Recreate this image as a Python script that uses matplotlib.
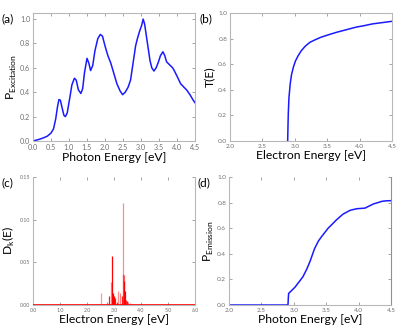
import matplotlib
matplotlib.use("Agg")
import matplotlib.pyplot as plt

plt.rcParams['font.family'] = ['Lato', 'DejaVu Sans']

# (a) excitation probability
exc_e = [0.0, 0.1, 0.2, 0.3, 0.4, 0.5, 0.57, 0.63, 0.68, 0.72, 0.76, 0.81, 0.86, 0.9, 0.95,
         1.02, 1.08, 1.15, 1.2, 1.26, 1.33, 1.38, 1.43, 1.5, 1.55, 1.6, 1.66, 1.72, 1.8, 1.87,
         1.93, 2.0, 2.08, 2.16, 2.25, 2.33, 2.42, 2.49, 2.56, 2.64, 2.71, 2.78, 2.85, 2.9, 2.96,
         3.02, 3.06, 3.1, 3.15, 3.2, 3.25, 3.3, 3.36, 3.42, 3.48, 3.54, 3.61, 3.66, 3.71, 3.8,
         3.88, 3.94, 4.02, 4.1, 4.18, 4.27, 4.36, 4.45, 4.5]
exc_p = [0.0, 0.008, 0.016, 0.027, 0.04, 0.065, 0.1, 0.18, 0.28, 0.34, 0.335, 0.27, 0.21, 0.2, 0.23,
         0.35, 0.46, 0.515, 0.5, 0.42, 0.39, 0.43, 0.56, 0.678, 0.64, 0.578, 0.62, 0.74, 0.84, 0.874,
         0.86, 0.78, 0.7, 0.64, 0.55, 0.47, 0.41, 0.38, 0.4, 0.44, 0.5, 0.64, 0.78, 0.84, 0.9,
         0.95, 1.0, 0.96, 0.86, 0.76, 0.66, 0.6, 0.574, 0.6, 0.645, 0.7, 0.732, 0.7, 0.65, 0.623,
         0.6, 0.568, 0.52, 0.47, 0.445, 0.418, 0.38, 0.335, 0.314]

# (b) transmission
tr_e = [2.89, 2.895, 2.90, 2.91, 2.93, 2.95, 2.98, 3.01, 3.05, 3.1, 3.16, 3.23, 3.31, 3.4, 3.52,
        3.65, 3.8, 3.95, 4.06, 4.2, 4.35, 4.5]
tr_t = [0.0, 0.12, 0.22, 0.34, 0.45, 0.52, 0.58, 0.625, 0.665, 0.705, 0.74, 0.77, 0.79, 0.81, 0.83,
        0.85, 0.87, 0.89, 0.90, 0.915, 0.925, 0.935]

# (c) electron energy distribution (spikes)
dk_e = [2.51, 2.75, 2.82, 2.88, 2.93, 2.97, 3.0, 3.04, 3.1, 3.16, 3.22, 3.28, 3.32, 3.34, 3.36,
        3.38, 3.4, 3.44, 3.47, 3.53, 3.59, 3.69]
dk_v = [0.0145, 0.003, 0.0106, 0.027, 0.057, 0.014, 0.01, 0.008, 0.004, 0.016, 0.014, 0.011, 0.036,
        0.119, 0.028, 0.035, 0.016, 0.006, 0.005, 0.003, 0.002, 0.001]
dk_alpha = [0.4, 0.6, 0.9, 0.5, 1.0, 1.0, 1.0, 0.9, 0.8, 0.45, 0.5, 0.9, 0.5, 0.45, 1.0,
            0.6, 1.0, 0.8, 0.9, 0.5, 0.4, 0.4]

# (d) emission probability
em_e = [2.0, 2.5, 2.91, 2.915, 2.92, 2.96, 3.02, 3.08, 3.14, 3.2, 3.25, 3.32, 3.38, 3.43, 3.53,
        3.6, 3.66, 3.76, 3.87, 3.97, 4.1, 4.17, 4.23, 4.3, 4.36, 4.43, 4.5]
em_p = [0.0, 0.0, 0.0, 0.05, 0.09, 0.11, 0.14, 0.18, 0.22, 0.28, 0.34, 0.44, 0.5, 0.535, 0.6,
        0.635, 0.666, 0.71, 0.74, 0.752, 0.757, 0.775, 0.79, 0.8, 0.81, 0.814, 0.815]

W, H = 397, 330
fig = plt.figure(figsize=(W / 100, H / 100), dpi=100)

def rect(l, r, t, b):
    return [l / W, 1 - b / H, (r - l) / W, (b - t) / H]

spine_c = '#b8b8b8'
tick_c = '#707070'
lab_fs = 8.7

def style(ax, tfs, hide_top=False):
    for s in ax.spines.values():
        s.set_color(spine_c)
        s.set_linewidth(0.8)
    if hide_top:
        ax.spines['top'].set_visible(False)
    ax.tick_params(direction='in', length=2, width=0.5, color='#808080',
                   labelsize=tfs, labelcolor=tick_c, top=True, right=True, pad=2)

# (a)
ax = fig.add_axes(rect(33, 195, 13, 141))
ax.plot(exc_e, exc_p, color='#1a1aff', lw=1.1)
ax.set_xlim(0, 4.5)
ax.set_ylim(0, 1.05)
ax.set_xticks([0, 0.5, 1.0, 1.5, 2.0, 2.5, 3.0, 3.5, 4.0, 4.5])
ax.set_yticks([0, 0.2, 0.4, 0.6, 0.8, 1.0])
ax.xaxis.set_major_formatter(matplotlib.ticker.FormatStrFormatter('%.1f'))
ax.yaxis.set_major_formatter(matplotlib.ticker.FormatStrFormatter('%.1f'))
style(ax, 5.2)
ax.set_xlabel('Photon Energy [eV]', fontsize=lab_fs, labelpad=1)
ax.set_ylabel(r'P$_{\mathregular{Excitation}}$', fontsize=lab_fs, labelpad=1)
fig.text(2 / W, 1 - 19 / H, '(a)', fontsize=8.5, va='center', ha='left')

# (b)
ax = fig.add_axes(rect(230, 392, 13, 141))
ax.plot(tr_e, tr_t, color='#1a1aff', lw=1.1)
ax.set_xlim(2.0, 4.5)
ax.set_ylim(0, 1.0)
ax.set_xticks([2.0, 2.5, 3.0, 3.5, 4.0, 4.5])
ax.set_yticks([0, 0.2, 0.4, 0.6, 0.8, 1.0])
ax.xaxis.set_major_formatter(matplotlib.ticker.FormatStrFormatter('%.1f'))
ax.yaxis.set_major_formatter(matplotlib.ticker.FormatStrFormatter('%.1f'))
style(ax, 4.6)
ax.set_xlabel('Electron Energy [eV]', fontsize=lab_fs, labelpad=1)
ax.set_ylabel('T(E)', fontsize=lab_fs, labelpad=2)
fig.text(199 / W, 1 - 19 / H, '(b)', fontsize=8.5, va='center', ha='left')

# (c)
ax = fig.add_axes(rect(33, 195, 177, 305))
ax.axhline(0, color='#ff0000', lw=1.2, zorder=3)
for e, v, a in zip(dk_e, dk_v, dk_alpha):
    ax.vlines(e, 0, v, color='#ff0000', lw=0.9, alpha=a)
ax.set_xlim(0, 6.0)
ax.set_ylim(0, 0.15)
ax.set_xticks([0, 1, 2, 3, 4, 5, 6])
ax.set_yticks([0, 0.05, 0.10, 0.15])
ax.xaxis.set_major_formatter(matplotlib.ticker.FormatStrFormatter('%.1f'))
ax.yaxis.set_major_formatter(matplotlib.ticker.FormatStrFormatter('%.2f'))
style(ax, 3.8, hide_top=True)
ax.set_xlabel('Electron Energy [eV]', fontsize=lab_fs, labelpad=1)
ax.set_ylabel(r'D$_{\mathregular{k}}$(E)', fontsize=lab_fs, labelpad=2)
fig.text(2 / W, 1 - 183 / H, '(c)', fontsize=8.5, va='center', ha='left')

# (d)
ax = fig.add_axes(rect(229, 391, 177, 305))
ax.plot(em_e, em_p, color='#1a1aff', lw=1.1)
ax.set_xlim(2.0, 4.5)
ax.set_ylim(0, 1.0)
ax.set_xticks([2.0, 2.5, 3.0, 3.5, 4.0, 4.5])
ax.set_yticks([0, 0.2, 0.4, 0.6, 0.8, 1.0])
ax.xaxis.set_major_formatter(matplotlib.ticker.FormatStrFormatter('%.1f'))
ax.yaxis.set_major_formatter(matplotlib.ticker.FormatStrFormatter('%.1f'))
style(ax, 4.6, hide_top=True)
ax.spines['right'].set_color('#909090')
ax.set_xlabel('Photon Energy [eV]', fontsize=lab_fs, labelpad=1)
ax.set_ylabel(r'P$_{\mathregular{Emission}}$', fontsize=lab_fs, labelpad=1)
fig.text(197 / W, 1 - 183 / H, '(d)', fontsize=8.5, va='center', ha='left')

fig.savefig('out.png', dpi=100)
